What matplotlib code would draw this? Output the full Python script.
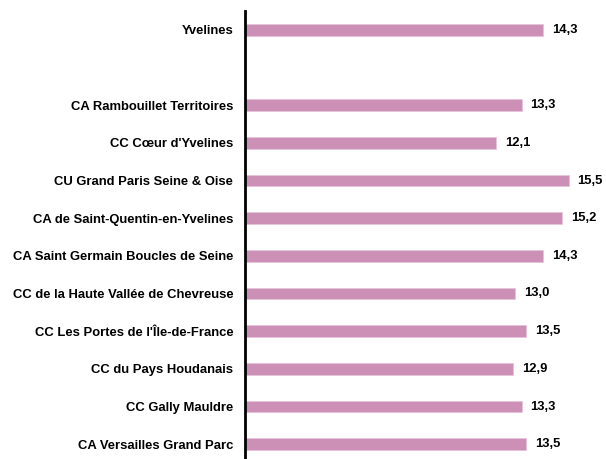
import matplotlib.pyplot as plt
import numpy as np

plt.rcParams['font.family'] = ['Liberation Sans', 'DejaVu Sans']

# categories from top to bottom ('' = empty slot)
labels = ['Yvelines', '',
          'CA Rambouillet Territoires',
          "CC Cœur d'Yvelines",
          'CU Grand Paris Seine & Oise',
          'CA de Saint-Quentin-en-Yvelines',
          'CA Saint Germain Boucles de Seine',
          'CC de la Haute Vallée de Chevreuse',
          "CC Les Portes de l'Île-de-France",
          'CC du Pays Houdanais',
          'CC Gally Mauldre',
          'CA Versailles Grand Parc']
values = [14.3, None, 13.3, 12.1, 15.5, 15.2, 14.3, 13.0, 13.5, 12.9, 13.3, 13.5]

fig = plt.figure(figsize=(6.06, 4.59), dpi=100)
ax = fig.add_axes([245 / 606, (459 - 463) / 459, 361 / 606, 452 / 459])

y = np.arange(len(labels))
for yi, v in zip(y, values):
    if v is None:
        continue
    ax.barh(yi, v, height=0.31, color='#cc8fb5', edgecolor='#e6c3d8', linewidth=0.6)
    ax.text(v + 0.4, yi, f'{v:.1f}'.replace('.', ','), va='center', ha='left',
            fontsize=9.4, fontweight='bold')

ax.set_yticks(y)
ax.set_yticklabels(labels, fontsize=9.4, fontweight='bold')
ax.tick_params(axis='y', length=0, pad=8.5)
ax.set_ylim(len(labels) - 0.5, -0.5)
ax.set_xlim(0.3, 17.25)
ax.set_xticks([])
for s in ['top', 'right', 'bottom']:
    ax.spines[s].set_visible(False)
ax.spines['left'].set_linewidth(2)

fig.savefig('out.png', dpi=100)
